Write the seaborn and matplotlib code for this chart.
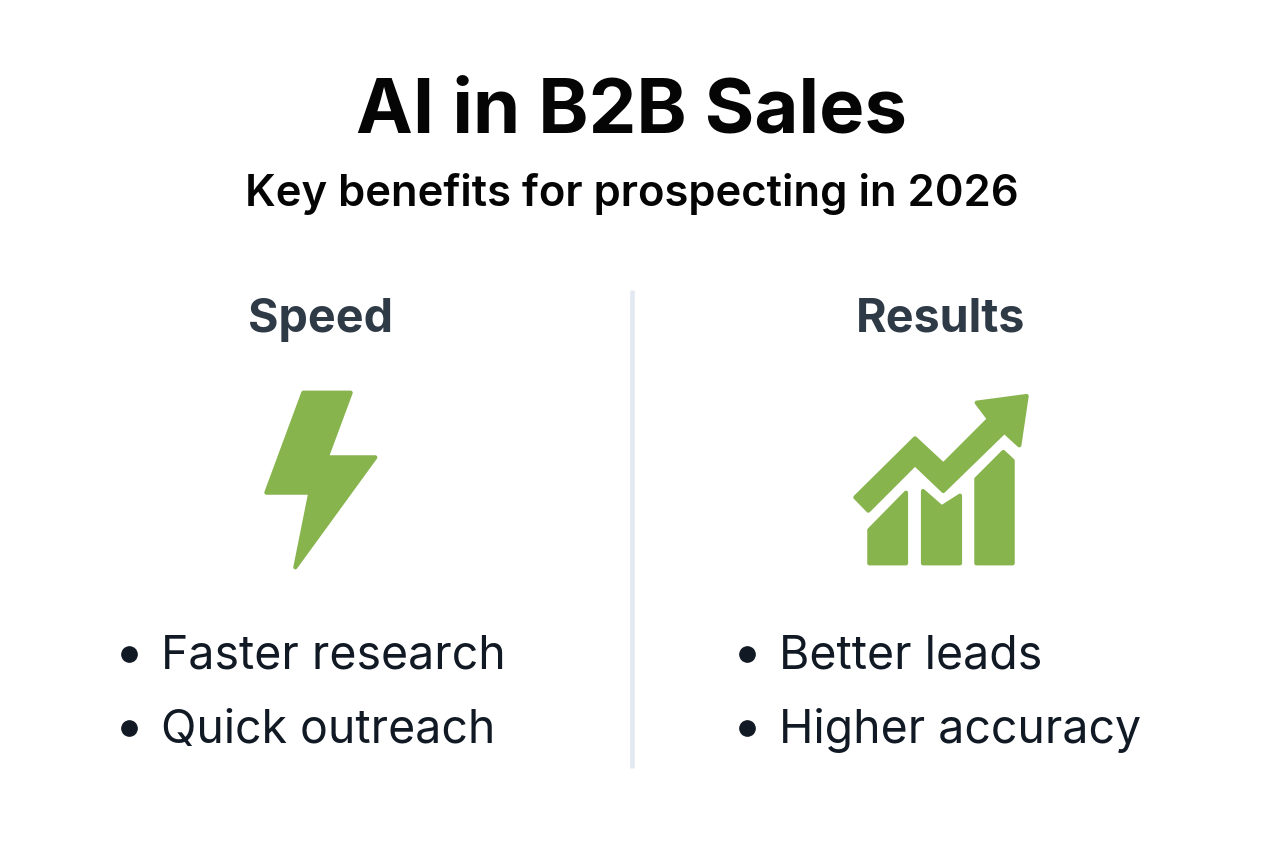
import matplotlib
matplotlib.use("Agg")
import matplotlib.pyplot as plt
import seaborn as sns
from matplotlib.patches import Polygon

title = "AI in B2B Sales"
subtitle = "Key benefits for prospecting in 2026"
headings = ["Speed", "Results"]
speed_items = ["Faster research", "Quick outreach"]
result_items = ["Better leads", "Higher accuracy"]

GREEN = "#88b44e"
W, H = 1264, 848

sns.set_theme(style="white")
plt.rcParams["font.family"] = ["Inter", "DejaVu Sans"]

fig = plt.figure(figsize=(W / 100, H / 100), dpi=100, facecolor="white")
ax = fig.add_axes([0, 0, 1, 1])
ax.set_xlim(0, W)
ax.set_ylim(H, 0)
ax.axis("off")


def icon(points, offset=(0, 0)):
    # outline points, slightly rounded by the stroke
    pts = [(x / 3 + offset[0], y / 3 + offset[1]) for x, y in points]
    ax.add_patch(Polygon(pts, closed=True, facecolor=GREEN, edgecolor=GREEN,
                         linewidth=3, joinstyle="round"))


ax.text(632, 113, title, ha="center", va="center", fontsize=54.8, fontweight="bold", color="#050505")
ax.text(632, 194, subtitle, ha="center", va="center", fontsize=31.4, fontweight="semibold", color="#050505")

ax.text(320, 320, headings[0], ha="center", va="center", fontsize=33.6, fontweight="bold", color="#2f3a47")
ax.text(941, 320, headings[1], ha="center", va="center", fontsize=33.6, fontweight="bold", color="#2f3a47")

# divider
ax.axvline(632, ymin=1 - 768 / H, ymax=1 - 290 / H, color="#e3e9f0", linewidth=3.3, solid_capstyle="butt")

# lightning bolt
icon([(190, 38), (332, 38), (260, 232), (406, 232), (166, 562), (211, 338), (79, 338)], (240, 380))

# growth icon
off = (840, 380)
icon([(46, 352), (225, 175), (310, 254), (447, 117), (410, 68), (560, 48), (538, 196),
      (493, 155), (310, 333), (225, 252), (85, 392)], off)
icon([(88, 450), (198, 338), (198, 550), (88, 550)], off)
icon([(249, 333), (305, 382), (360, 347), (360, 550), (249, 550)], off)
icon([(409, 297), (490, 216), (518, 242), (518, 550), (409, 550)], off)

# bullet lists
for xb, xt, items in [(129, 161, speed_items), (747, 779, result_items)]:
    for y, item in zip([654, 728], items):
        ax.plot([xb], [y], marker="o", markersize=11, color="#111a24", linestyle="none")
        ax.text(xt, y + 2.5, item, ha="left", va="center", fontsize=33.4, color="#111a24")

fig.savefig("out.png", dpi=100)
